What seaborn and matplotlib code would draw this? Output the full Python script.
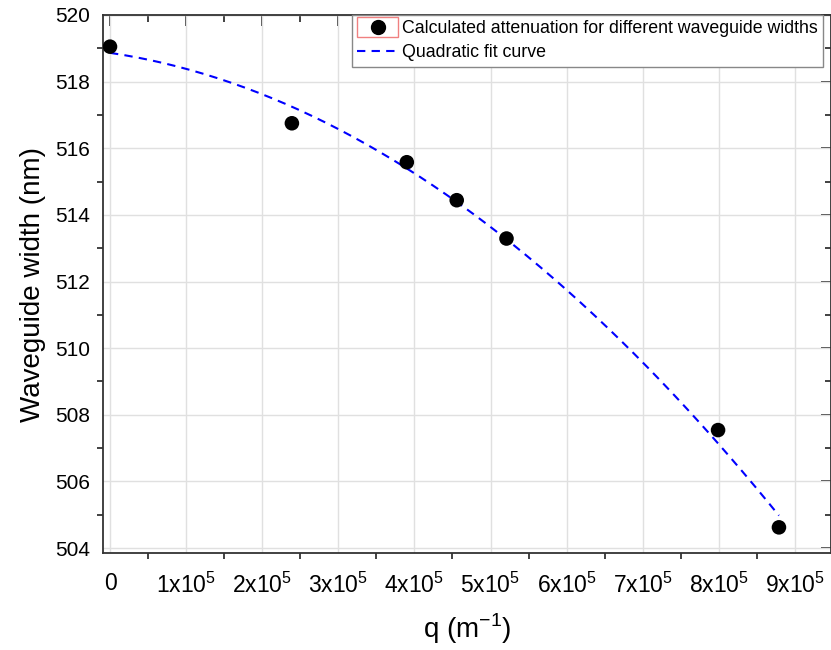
import numpy as np
import pandas as pd
import seaborn as sns
import matplotlib.pyplot as plt
from matplotlib.patches import Rectangle
from matplotlib.lines import Line2D
from matplotlib.legend_handler import HandlerPatch, HandlerTuple
from matplotlib.ticker import FixedLocator, MultipleLocator

# data
q_values = [0.0, 2.39e5, 3.90e5, 4.556e5, 5.21e5, 7.99e5, 8.79e5]
width_values = [519.05, 516.75, 515.58, 514.44, 513.29, 507.54, 504.62]

x_ticks = [0, 1e5, 2e5, 3e5, 4e5, 5e5, 6e5, 7e5, 8e5, 9e5]
x_tick_labels = ["0"] + ["%dx10$^{\\mathregular{5}}$" % i for i in range(1, 10)]
y_ticks = [504, 506, 508, 510, 512, 514, 516, 518, 520]

point_label = "Calculated attenuation for different waveguide widths"
fit_label = "Quadratic fit curve"


def quadratic_fit(x, y):
    coeffs = np.polyfit(x, y, 2)
    xs = np.linspace(min(x), max(x), 200)
    return pd.DataFrame({"q": xs, "w": np.polyval(coeffs, xs)})


def box_patch(legend, orig_handle, xdescent, ydescent, width, height, fontsize):
    return Rectangle((-xdescent, -ydescent - 0.3 * height), width, height * 1.6)


def main():
    sns.set_style("white")
    plt.rcParams["font.family"] = ["Liberation Sans", "DejaVu Sans"]
    plt.rcParams["mathtext.fontset"] = "custom"
    plt.rcParams["mathtext.rm"] = "Liberation Sans"
    plt.rcParams["text.color"] = "black"
    plt.rcParams["axes.labelcolor"] = "black"
    plt.rcParams["xtick.color"] = "black"
    plt.rcParams["ytick.color"] = "black"

    data = pd.DataFrame({"q": q_values, "w": width_values})
    fit = quadratic_fit(q_values, width_values)

    fig = plt.figure(figsize=(8.31, 6.5), dpi=100)
    ax = fig.add_axes([103 / 831, 1 - 553 / 650, 1 - 103 / 831, (553 - 15) / 650])

    sns.lineplot(data=fit, x="q", y="w", ax=ax, color="#0000ff", lw=1.5,
                 dashes=False, linestyle=(0, (4, 3)), zorder=3)
    sns.scatterplot(data=data, x="q", y="w", ax=ax, color="black", s=110,
                    edgecolor="none", zorder=4)

    ax.set_xlim(-9200, 9.474e5)
    ax.set_ylim(503.85, 520)

    ax.xaxis.set_major_locator(FixedLocator(x_ticks))
    ax.set_xticklabels(x_tick_labels)
    ax.xaxis.set_minor_locator(MultipleLocator(0.5e5))
    ax.set_yticks(y_ticks)
    ax.yaxis.set_minor_locator(MultipleLocator(1))

    ax.grid(True, which="major", color="#e0e0e0", lw=1)
    ax.tick_params(axis="x", which="major", direction="out", length=8, width=1.3,
                   labelsize=16.5, color="#333333", pad=6)
    ax.tick_params(axis="y", which="major", direction="out", length=7.5, width=1.3,
                   labelsize=15, color="#333333", pad=2)
    ax.tick_params(which="minor", direction="out", length=4.5, width=1.3,
                   color="#333333", bottom=True, left=True)
    for s in ax.spines.values():
        s.set_color("#333333")
        s.set_linewidth(1.3)

    # top / right mirrored ticks pointing inward
    top = ax.secondary_xaxis("top")
    top.xaxis.set_major_locator(FixedLocator(x_ticks))
    top.xaxis.set_minor_locator(MultipleLocator(0.5e5))
    top.tick_params(which="major", direction="in", length=8, width=1.3, labeltop=False, color="#333333")
    top.tick_params(which="minor", direction="in", length=5, width=1.3, color="#333333")
    right = ax.secondary_yaxis("right")
    right.set_yticks(y_ticks)
    right.yaxis.set_minor_locator(MultipleLocator(1))
    right.tick_params(which="major", direction="in", length=7.5, width=1.3, labelright=False, color="#333333")
    right.tick_params(which="minor", direction="in", length=4, width=1.3, color="#333333")

    ax.set_xlabel("q (m$^{\\mathregular{-1}}$)", fontsize=20, labelpad=10)
    ax.set_ylabel("Waveguide width (nm)", fontsize=20, labelpad=6)

    box = Rectangle((0, 0), 1, 1, facecolor="none", edgecolor="#f08080", lw=1)
    dot = Line2D([], [], marker="o", color="black", ls="none", markersize=10)
    dash = Line2D([], [], color="#0000ff", lw=1.5, ls=(0, (4, 3)))
    ax.legend([(box, dot), dash], [point_label, fit_label],
              handler_map={Rectangle: HandlerPatch(patch_func=box_patch),
                           tuple: HandlerTuple(ndivide=1)},
              loc="upper left", bbox_to_anchor=(352 / 831, 1 - 15 / 650),
              bbox_transform=fig.transFigure, fontsize=12.8, frameon=True,
              fancybox=False, edgecolor="#888888", framealpha=1,
              handlelength=2.3, handletextpad=0.2, labelspacing=0.4,
              borderpad=0.3, borderaxespad=0)

    fig.savefig("out.png", dpi=100)


if __name__ == "__main__":
    main()
